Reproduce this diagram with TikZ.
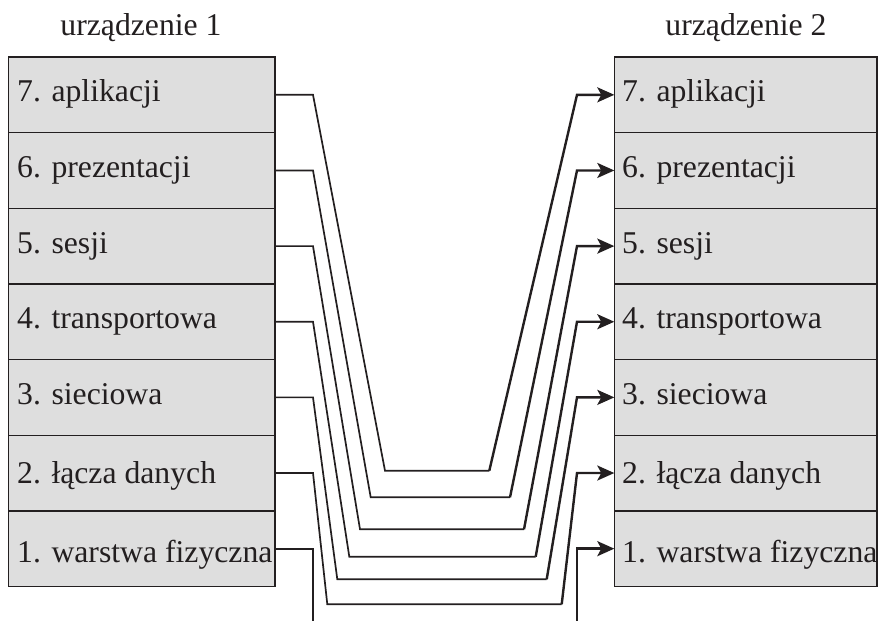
\documentclass[tikz,border=0pt]{standalone}
\usepackage{fontspec}
\setmainfont{Liberation Serif}
\usetikzlibrary{arrows.meta,calc}
\definecolor{ink}{HTML}{231F20}
\definecolor{boxgray}{RGB}{222,222,222}
\begin{document}
\begin{tikzpicture}[x=1pt,y=-1pt,
  layerbox/.style={draw=ink, line width=1.4pt, fill=boxgray, minimum width=#1,
    minimum height=75.64pt, inner sep=0pt, outer sep=0pt, anchor=north west},
  lbl/.style={text=ink, inner sep=0pt, font=\fontsize{31.7}{38}\selectfont},
  thinline/.style={draw=ink, line width=1.7pt},
  thickline/.style={draw=ink, line width=2.4pt},
  arr/.style={-{Stealth[length=17pt,width=15pt,inset=4pt]}}]
\useasboundingbox (0,0) rectangle (878,621);
% device titles
\node[lbl, anchor=base] (t1) at (141,35) {urządzenie 1};
\node[lbl, anchor=base] (t2) at (746,35) {urządzenie 2};
% layer boxes
\foreach \i/\t/\d [count=\n from 0] in {7/{7. aplikacji}/7, 6/{6. prezentacji}/7, 5/{5. sesji}/7,
   4/{4. transportowa}/7, 3/{3. sieciowa}/7, 2/{2. łącza danych}/10, 1/{1. warstwa fizyczna}/13.5}{
  \node[layerbox=266.3pt] (L\i) at (8.7,57+75.64*\n) {};
  \node[layerbox=262.7pt] (R\i) at (614.3,57+75.64*\n) {};
  \node[lbl, anchor=base west] (tL\i) at ($(L\i.west)+(8.3,\d)$) {\t};
  \node[lbl, anchor=base west] (tR\i) at ($(R\i.west)+(7.7,\d)$) {\t};
}
% bottom corners of the connectors
\coordinate (b7l) at (385,470.7);   \coordinate (b7r) at (489.3,470.7);
\coordinate (b6l) at (370.7,497.3); \coordinate (b6r) at (510,497.3);
\coordinate (b5l) at (360,529.3);   \coordinate (b5r) at (524,529.3);
\coordinate (b4l) at (349.3,556.7); \coordinate (b4r) at (535.7,556.7);
\coordinate (b3l) at (337.3,579.3); \coordinate (b3r) at (546.7,579.3);
\coordinate (b2l) at (327.3,604.3); \coordinate (b2r) at (561.7,604.3);
\coordinate (e1l) at (313,621);     \coordinate (e1r) at (577,621);
% connectors
\foreach \i in {7,6,5,4,3,2}{
  \draw[thinline] (L\i.east) -- ($(L\i.east)+(38,0)$) -- (b\i l) -- (b\i r);
  \draw[thickline, arr] (b\i r) -- ($(R\i.west)+(-37.3,0)$) -- (R\i.west);
}
\draw[thinline] (L1.east) -- (L1.east -| e1l) -- (e1l);
\draw[thickline, arr] (e1r) -- (e1r |- R1.west) -- (R1.west);
\end{tikzpicture}
\end{document}
